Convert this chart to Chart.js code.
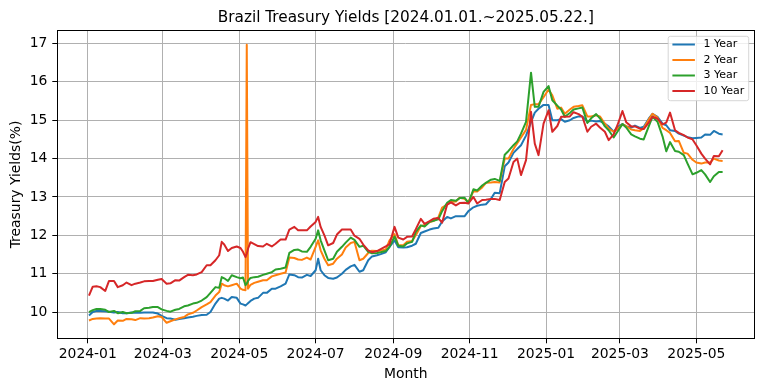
<!DOCTYPE html>
<html>
<head>
<meta charset="utf-8">
<script src="https://cdn.jsdelivr.net/npm/chart.js@4.4.1/dist/chart.umd.min.js"></script>
<style>
  html, body { margin: 0; padding: 0; background: #fff; }
</style>
</head>
<body>
<canvas id="yieldChart" width="764" height="391"></canvas>
<script>
// x = days since 2024-01-01 (sampled trading days)
const days = [
  1, 4, 7, 10, 14, 17, 21, 24, 28, 31, 35, 38, 42, 45, 49, 52, 56, 59, 63, 66, 70, 73, 77, 80, 84, 87, 91,
  95, 98, 102, 105, 107, 109, 112, 115, 119, 122, 124, 126, 127, 128, 130, 133, 136, 140, 143, 147, 150, 154, 158, 161, 165, 168, 171, 175, 178, 182, 184,
  186, 189, 192, 196, 199, 203, 206, 210, 213, 217, 220, 224, 227, 231, 234, 238, 241, 245, 248, 252, 255, 259, 262, 266, 269, 273, 276,
  280, 283, 287, 290, 294, 297, 301, 304, 308, 311, 315, 318, 322, 325, 329, 333, 336, 340, 343, 346, 350, 354, 357, 360, 364, 368, 371, 375,
  378, 381, 385, 388, 392, 395, 399, 402, 406, 409, 413, 416, 420, 423, 427, 430, 434, 437, 441, 444, 448, 451, 455, 459, 462, 465,
  469, 472, 476, 479, 483, 486, 490, 493, 497, 500, 504, 507
];

const yield1y = [
  9.91, 10.00, 10.03, 10.03, 10.02, 10.01, 9.99, 10.00, 9.97, 9.97, 9.99, 9.98, 9.98, 9.99, 9.99, 9.99, 9.96, 9.90, 9.84, 9.83, 9.80, 9.82, 9.84, 9.86, 9.88, 9.90, 9.92,
  9.93, 10.00, 10.22, 10.35, 10.37, 10.35, 10.30, 10.39, 10.37, 10.22, 10.20, 10.17, 10.20, 10.23, 10.29, 10.35, 10.37, 10.50, 10.50, 10.61, 10.61, 10.67, 10.74, 10.98, 10.96, 10.91, 10.90, 10.97, 10.94, 11.09, 11.39,
  11.09, 10.96, 10.89, 10.87, 10.90, 11.00, 11.10, 11.19, 11.23, 11.05, 11.09, 11.35, 11.45, 11.48, 11.51, 11.56, 11.70, 11.87, 11.69, 11.68, 11.69, 11.73, 11.78, 12.06, 12.10, 12.15, 12.18,
  12.20, 12.36, 12.48, 12.44, 12.50, 12.50, 12.50, 12.63, 12.73, 12.77, 12.80, 12.81, 12.95, 13.11, 13.10, 13.80, 13.90, 14.15, 14.25, 14.35, 14.60, 14.95, 15.20, 15.30, 15.40, 15.40, 15.00, 15.00,
  15.03, 14.96, 15.00, 15.06, 15.10, 15.10, 14.96, 14.99, 14.97, 14.98, 14.91, 14.84, 14.70, 14.83, 14.90, 14.84, 14.81, 14.86, 14.80, 14.83, 15.04, 15.17, 15.09, 14.91, 14.87, 14.74,
  14.72, 14.65, 14.60, 14.56, 14.53, 14.54, 14.55, 14.63, 14.62, 14.72, 14.65, 14.63
];

const yield2y = [
  9.78, 9.82, 9.83, 9.84, 9.83, 9.83, 9.68, 9.78, 9.77, 9.82, 9.81, 9.79, 9.84, 9.83, 9.84, 9.86, 9.89, 9.87, 9.72, 9.76, 9.81, 9.84, 9.87, 9.94, 9.98, 10.04, 10.13,
  10.20, 10.26, 10.43, 10.52, 10.74, 10.70, 10.67, 10.70, 10.74, 10.61, 10.58, 10.57, 16.97, 10.61, 10.71, 10.76, 10.79, 10.83, 10.83, 10.93, 10.96, 11.00, 11.03, 11.42, 11.41, 11.37, 11.36, 11.42, 11.37, 11.70, 11.87,
  11.61, 11.39, 11.22, 11.26, 11.39, 11.50, 11.68, 11.80, 11.83, 11.35, 11.39, 11.54, 11.60, 11.59, 11.60, 11.63, 11.87, 12.03, 11.74, 11.74, 11.83, 11.85, 12.00, 12.24, 12.27, 12.35, 12.37,
  12.47, 12.72, 12.80, 12.87, 12.88, 12.98, 12.95, 12.87, 13.15, 13.14, 13.25, 13.37, 13.38, 13.39, 13.38, 14.00, 14.00, 14.25, 14.40, 14.55, 14.75, 15.40, 15.42, 15.42, 15.60, 15.80, 15.65, 15.30,
  15.33, 15.17, 15.28, 15.35, 15.37, 15.39, 15.10, 15.10, 15.13, 15.10, 14.91, 14.78, 14.70, 14.77, 14.89, 14.85, 14.76, 14.74, 14.72, 14.79, 15.02, 15.17, 15.07, 14.80, 14.74, 14.67,
  14.45, 14.46, 14.15, 14.13, 13.97, 13.90, 13.87, 13.90, 13.90, 14.00, 13.95, 13.94
];

const yield3y = [
  10.00, 10.05, 10.08, 10.08, 10.06, 10.00, 10.03, 9.97, 10.00, 9.97, 9.98, 10.02, 10.03, 10.10, 10.11, 10.13, 10.13, 10.07, 10.03, 10.01, 10.06, 10.08, 10.15, 10.17, 10.22, 10.24, 10.30,
  10.39, 10.50, 10.65, 10.63, 10.91, 10.88, 10.81, 10.96, 10.91, 10.88, 10.90, 10.70, 10.74, 10.81, 10.89, 10.91, 10.92, 10.97, 11.00, 11.04, 11.11, 11.13, 11.16, 11.54, 11.62, 11.63, 11.58, 11.57, 11.70, 11.91, 12.13,
  11.87, 11.61, 11.35, 11.39, 11.57, 11.70, 11.81, 11.94, 11.88, 11.70, 11.73, 11.57, 11.53, 11.54, 11.56, 11.59, 11.70, 11.97, 11.73, 11.71, 11.79, 11.83, 12.09, 12.26, 12.23, 12.35, 12.38,
  12.42, 12.63, 12.85, 12.92, 12.90, 12.97, 12.98, 12.84, 13.20, 13.17, 13.30, 13.37, 13.45, 13.47, 13.42, 14.10, 14.20, 14.35, 14.45, 14.65, 14.96, 16.24, 15.35, 15.35, 15.74, 15.89, 15.52, 15.38,
  15.28, 15.09, 15.19, 15.28, 15.31, 15.33, 14.93, 15.05, 15.16, 15.05, 14.84, 14.74, 14.55, 14.70, 14.90, 14.81, 14.63, 14.58, 14.52, 14.50, 14.84, 15.09, 14.96, 14.58, 14.19, 14.43,
  14.20, 14.18, 14.09, 13.87, 13.59, 13.63, 13.70, 13.59, 13.39, 13.54, 13.65, 13.65
];

const yield10y = [
  10.43, 10.66, 10.67, 10.65, 10.55, 10.81, 10.81, 10.65, 10.70, 10.77, 10.70, 10.74, 10.77, 10.80, 10.81, 10.81, 10.84, 10.86, 10.74, 10.75, 10.83, 10.82, 10.91, 10.97, 10.96, 10.98, 11.04,
  11.22, 11.22, 11.35, 11.48, 11.83, 11.76, 11.59, 11.67, 11.71, 11.67, 11.57, 11.43, 11.52, 11.65, 11.82, 11.77, 11.72, 11.71, 11.78, 11.71, 11.78, 11.89, 11.89, 12.15, 12.22, 12.13, 12.13, 12.13, 12.23, 12.35, 12.48,
  12.22, 12.00, 11.74, 11.80, 12.02, 12.15, 12.15, 12.15, 11.99, 11.91, 11.76, 11.61, 11.56, 11.59, 11.64, 11.71, 11.77, 12.22, 11.94, 11.89, 11.96, 11.97, 12.16, 12.43, 12.30, 12.37, 12.43,
  12.45, 12.33, 12.80, 12.86, 12.78, 12.84, 12.85, 12.83, 13.00, 12.83, 12.92, 12.93, 12.95, 12.95, 12.92, 13.39, 13.48, 13.91, 14.00, 13.57, 13.96, 15.22, 14.39, 14.09, 14.91, 15.26, 14.70, 14.85,
  15.09, 15.09, 15.10, 15.21, 15.16, 15.09, 14.70, 14.83, 14.91, 14.81, 14.70, 14.48, 14.63, 14.87, 15.24, 14.95, 14.84, 14.84, 14.78, 14.77, 14.94, 15.09, 15.04, 14.89, 14.94, 15.20,
  14.74, 14.67, 14.61, 14.55, 14.50, 14.35, 14.13, 14.00, 13.85, 14.07, 14.06, 14.22
];

const seriesNames = ['1 Year', '2 Year', '3 Year', '10 Year'];
const seriesColors = ['#1f77b4', '#ff7f0e', '#2ca02c', '#d62728'];

const tickDays = [0, 60, 121, 182, 244, 305, 366, 425, 486];
const tickLabels = ['2024-01', '2024-03', '2024-05', '2024-07', '2024-09',
                    '2024-11', '2025-01', '2025-03', '2025-05'];
const yTicks = [10, 11, 12, 13, 14, 15, 16, 17];

const chartTitle = 'Brazil Treasury Yields [2024.01.01.~2025.05.22.]';

// matplotlib-like 5% margins
const allValues = [...yield1y, ...yield2y, ...yield3y, ...yield10y];
const yLo = Math.min(...allValues), yHi = Math.max(...allValues);
const xLo = days[0], xHi = days[days.length - 1];
const yPad = (yHi - yLo) * 0.05, xPad = (xHi - xLo) * 0.05;

const seriesValues = [yield1y, yield2y, yield3y, yield10y];
const datasets = seriesValues.map((vals, i) => ({
  label: seriesNames[i],
  data: days.map((d, j) => ({ x: d, y: vals[j] })),
  borderColor: seriesColors[i],
  backgroundColor: seriesColors[i],
  borderWidth: 2,
  borderJoinStyle: 'round',
  pointRadius: 0,
  tension: 0,
  fill: false,
  order: seriesValues.length - i   // later series on top, like matplotlib
}));

const FONT = 'DejaVu Sans';

const decorPlugin = {
  id: 'decor',
  afterDraw(chart) {
    const { ctx, chartArea: a } = chart;
    ctx.save();

    // title
    ctx.fillStyle = '#000';
    ctx.font = '15.3px "' + FONT + '"';
    ctx.textAlign = 'center';
    ctx.textBaseline = 'alphabetic';
    ctx.fillText(chartTitle, (a.left + a.right) / 2, a.top - 8.3);

    // axes frame
    ctx.strokeStyle = '#000';
    ctx.lineWidth = 1;
    const l = Math.floor(a.left) + 0.5, r = Math.floor(a.right) + 0.5;
    const t = Math.floor(a.top) + 0.5, b = Math.floor(a.bottom) + 0.5;
    ctx.strokeRect(l, t, r - l, b - t);

    // legend, upper right
    const w = 80.5, h = 64.4, rad = 2.2;
    const lx = a.right - 5.6 - w, ly = a.top + 5.6;
    ctx.beginPath();
    ctx.moveTo(lx + rad, ly);
    ctx.arcTo(lx + w, ly, lx + w, ly + h, rad);
    ctx.arcTo(lx + w, ly + h, lx, ly + h, rad);
    ctx.arcTo(lx, ly + h, lx, ly, rad);
    ctx.arcTo(lx, ly, lx + w, ly, rad);
    ctx.closePath();
    ctx.fillStyle = 'rgba(255,255,255,0.8)';
    ctx.fill();
    ctx.strokeStyle = 'rgba(204,204,204,0.8)';
    ctx.lineWidth = 1;
    ctx.stroke();

    ctx.font = '11px "' + FONT + '"';
    ctx.textAlign = 'left';
    ctx.textBaseline = 'middle';
    chart.data.datasets.forEach((ds, i) => {
      const ry = ly + 8.2 + i * 15.5;
      ctx.strokeStyle = ds.borderColor;
      ctx.lineWidth = 2;
      ctx.beginPath();
      ctx.moveTo(lx + 4.2, ry);
      ctx.lineTo(lx + 26.7, ry);
      ctx.stroke();
      ctx.fillStyle = '#000';
      ctx.fillText(ds.label, lx + 35.2, ry);
    });

    ctx.restore();
  }
};

const ctxYield = document.getElementById('yieldChart').getContext('2d');
const yieldChart = new Chart(ctxYield, {
  type: 'line',
  data: { datasets: datasets },
  plugins: [decorPlugin],
  options: {
    responsive: false,
    animation: false,
    devicePixelRatio: 1,
    layout: { padding: { left: 0, right: 9.7, top: 30.7, bottom: 0 } },
    scales: {
      x: {
        type: 'linear',
        min: xLo - xPad,
        max: xHi + xPad,
        afterBuildTicks: (scale) => { scale.ticks = tickDays.map(v => ({ value: v })); },
        afterFit: (scale) => { scale.height = 52.7; },
        ticks: {
          autoSkip: false,
          maxRotation: 0,
          padding: 3,
          color: '#000',
          font: { family: FONT, size: 13.9 },
          callback: (value, index) => tickLabels[index]
        },
        grid: { color: '#b0b0b0', lineWidth: 1, tickColor: '#000', tickLength: 5, tickWidth: 1 },
        border: { display: false },
        title: {
          display: true,
          text: 'Month',
          color: '#000',
          font: { family: FONT, size: 13.9 },
          padding: { top: 0, bottom: 8.2 }
        }
      },
      y: {
        type: 'linear',
        min: yLo - yPad,
        max: yHi + yPad,
        afterBuildTicks: (scale) => { scale.ticks = yTicks.map(v => ({ value: v })); },
        afterFit: (scale) => { scale.width = 57.3; },
        ticks: {
          padding: 4.9,
          color: '#000',
          font: { family: FONT, size: 13.9 },
          callback: (value) => String(value)
        },
        grid: { color: '#b0b0b0', lineWidth: 1, tickColor: '#000', tickLength: 5, tickWidth: 1 },
        border: { display: false },
        title: {
          display: true,
          text: 'Treasury Yields(%)',
          color: '#000',
          font: { family: FONT, size: 13.9 },
          padding: { top: 7.7, bottom: 0 }
        }
      }
    },
    plugins: {
      legend: { display: false },
      tooltip: { enabled: false },
      title: { display: false }
    }
  }
});
</script>
</body>
</html>
